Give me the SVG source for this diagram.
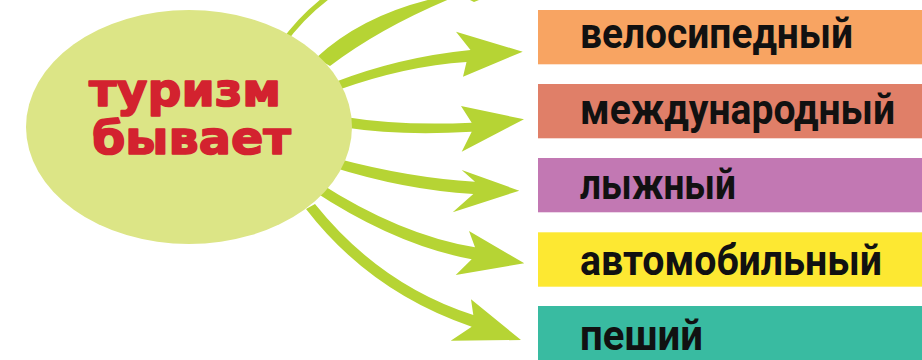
<svg xmlns="http://www.w3.org/2000/svg" width="922" height="360" viewBox="0 0 922 360">
<style>
.arr{fill:#b6d434;stroke:none}
.ln{fill:none;stroke:#b6d434;stroke-linecap:butt}
.lbl{font-family:Roboto,"Noto Sans","DejaVu Sans",sans-serif;font-weight:700;font-size:43px;fill:#111}
.ttl{font-family:"DejaVu Sans","Noto Sans",sans-serif;font-weight:700;font-size:46px;fill:#d3222f;stroke:#d3222f;stroke-width:1.6;stroke-linejoin:round}
</style>
<rect width="922" height="360" fill="#ffffff"/>
<g id="connectors">
  <path class="ln" stroke-width="5" d="M 282 44 Q 302 16 329 -4"/>
  <path class="arr" d="M 316 58 Q 362 15 436 -2 L 452 -2 Q 380 28 330 66 Z"/>
  <polygon class="arr" points="470,0 479,0 474,2"/>
  <path class="arr" d="M 335 82 Q 400 57 470.5 50 L 456 31.7 L 522.7 51.7 L 463 76.7 L 466.5 62 Q 405 66 338 90 Z"/>
  <path class="arr" d="M 345 117 Q 400 126 471.7 122.7 L 461 106 L 524 119.3 L 461.7 151.7 L 471.7 131.7 Q 400 136 345 127.5 Z"/>
  <path class="arr" d="M 335 158 Q 410 178 475 181.7 L 461.7 170 L 519.3 190.7 L 452.7 212.3 L 473.3 194 Q 405 190 332 167 Z"/>
  <path class="arr" d="M 318 182 Q 400 235 475 247.3 L 469 231 L 524.3 263.3 L 455.7 275 L 471.7 259.3 Q 395 245 312 190 Z"/>
  <path class="arr" d="M 315 204 Q 380 285 473.3 315 L 471 299.3 L 521 340 L 450.7 340.7 L 471.7 326.7 Q 370 292 306 209 Z"/>
</g>
<g id="center">
  <ellipse cx="189" cy="127" rx="163" ry="117" fill="#dce586"/>
  <text class="ttl"><tspan x="89" y="106" textLength="192" lengthAdjust="spacingAndGlyphs">туризм</tspan><tspan x="92" y="154" textLength="199" lengthAdjust="spacingAndGlyphs">бывает</tspan></text>
</g>
<g id="n1">
  <rect x="538" y="10" width="384" height="54.3" fill="#f8a462"/>
  <text class="lbl" x="580" y="47.7" textLength="273" lengthAdjust="spacingAndGlyphs">велосипедный</text>
</g>
<g id="n2">
  <rect x="538" y="84" width="384" height="54.3" fill="#e07f68"/>
  <text class="lbl" x="580" y="124" textLength="315" lengthAdjust="spacingAndGlyphs">международный</text>
</g>
<g id="n3">
  <rect x="538" y="158" width="384" height="54.3" fill="#c278b3"/>
  <text class="lbl" x="580" y="199" textLength="156" lengthAdjust="spacingAndGlyphs">лыжный</text>
</g>
<g id="n4">
  <rect x="538" y="232.3" width="384" height="54.4" fill="#fde832"/>
  <text class="lbl" x="580" y="275" textLength="302" lengthAdjust="spacingAndGlyphs">автомобильный</text>
</g>
<g id="n5">
  <rect x="538" y="306" width="384" height="60" fill="#39bba1"/>
  <text class="lbl" x="580" y="350" textLength="123" lengthAdjust="spacingAndGlyphs">пеший</text>
</g>
</svg>
